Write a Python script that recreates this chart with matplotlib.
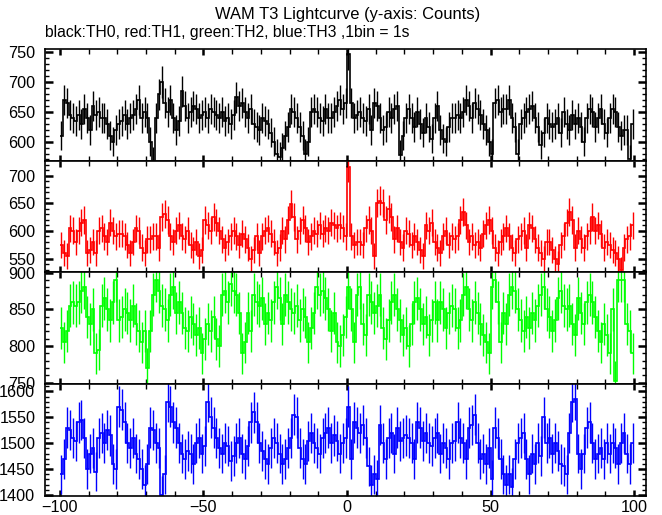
import numpy as np
import matplotlib
matplotlib.use("Agg")
import matplotlib.pyplot as plt
from matplotlib.ticker import MultipleLocator

# 1 s bins, start time of each bin
bin_start = np.arange(-100, 100)

# TH0 (black)
th0 = [610, 670, 665, 645, 640, 635, 645, 630, 655, 640,
       620, 660, 645, 650, 640, 640, 630, 610, 600, 620,
       630, 635, 645, 630, 640, 645, 655, 670, 640, 650,
       640, 600, 568, 640, 680, 700, 665, 650, 670, 640,
       620, 635, 685, 660, 640, 650, 660, 655, 640, 645,
       650, 640, 655, 650, 645, 640, 650, 635, 640, 630,
       645, 675, 660, 665, 650, 640, 655, 630, 625, 620,
       640, 635, 630, 615, 600, 580, 575, 590, 610, 625,
       655, 650, 640, 625, 610, 580, 600, 650, 655, 650,
       640, 635, 655, 640, 640, 650, 660, 670, 655, 665,
       748, 665, 640, 645, 650, 640, 635, 655, 620, 665,
       660, 640, 620, 625, 650, 640, 655, 660, 578, 610,
       640, 655, 640, 625, 650, 630, 615, 640, 625, 605,
       640, 660, 620, 605, 600, 625, 640, 640, 645, 640,
       650, 670, 660, 640, 665, 655, 645, 630, 620, 600,
       580, 665, 670, 650, 655, 655, 670, 640, 625, 580,
       630, 640, 650, 655, 660, 640, 625, 595, 615, 640,
       630, 625, 630, 640, 615, 650, 630, 620, 645, 630,
       640, 625, 600, 640, 655, 650, 625, 640, 655, 630,
       615, 640, 655, 650, 625, 610, 620, 620, 570, 630]

# TH1 (red)
th1 = [575, 560, 555, 605, 600, 580, 600, 615, 620, 560,
       565, 580, 560, 600, 605, 590, 580, 615, 600, 590,
       595, 595, 590, 575, 560, 580, 605, 600, 570, 560,
       585, 585, 590, 590, 570, 625, 630, 620, 590, 580,
       600, 610, 590, 585, 600, 575, 565, 580, 555, 565,
       620, 610, 600, 625, 615, 600, 585, 570, 580, 590,
       600, 590, 575, 595, 585, 570, 550, 565, 590, 560,
       590, 600, 605, 595, 580, 560, 570, 600, 585, 620,
       648, 625, 585, 600, 620, 605, 580, 590, 600, 595,
       610, 595, 605, 600, 615, 610, 605, 610, 605, 590,
       715, 590, 575, 580, 580, 575, 605, 620, 600, 555,
       650, 655, 650, 620, 640, 625, 585, 605, 580, 570,
       600, 595, 575, 590, 580, 565, 555, 610, 600, 615,
       580, 570, 560, 590, 600, 575, 590, 585, 590, 620,
       635, 610, 580, 590, 575, 580, 570, 595, 610, 620,
       600, 570, 560, 580, 590, 605, 590, 570, 560, 585,
       590, 600, 570, 610, 605, 585, 570, 560, 550, 580,
       580, 565, 550, 540, 575, 590, 615, 635, 620, 570,
       600, 585, 570, 590, 600, 625, 600, 610, 595, 570,
       580, 575, 565, 560, 550, 530, 570, 585, 590, 610]

# TH2 (green)
th2 = [825, 805, 820, 855, 860, 855, 860, 875, 880, 840,
       830, 850, 790, 795, 855, 865, 850, 835, 860, 890,
       835, 840, 850, 845, 835, 855, 830, 820, 805, 820,
       770, 820, 870, 890, 875, 855, 850, 835, 870, 880,
       845, 860, 845, 825, 820, 840, 830, 815, 825, 790,
       810, 830, 820, 840, 810, 800, 870, 875, 860, 885,
       875, 870, 845, 790, 805, 845, 820, 870, 860, 855,
       865, 830, 845, 835, 860, 880, 865, 830, 870, 860,
       850, 845, 855, 835, 850, 840, 805, 825, 845, 880,
       870, 875, 865, 850, 820, 845, 805, 800, 815, 840,
       880, 850, 805, 870, 880, 830, 815, 870, 860, 845,
       855, 870, 825, 810, 835, 860, 870, 850, 835, 815,
       825, 800, 830, 860, 865, 850, 830, 840, 815, 835,
       860, 835, 860, 850, 825, 845, 855, 850, 825, 835,
       870, 880, 850, 835, 860, 845, 830, 815, 805, 790,
       880, 890, 860, 805, 845, 830, 870, 880, 875, 850,
       835, 820, 840, 825, 845, 835, 855, 870, 880, 850,
       840, 820, 835, 865, 875, 855, 850, 855, 830, 815,
       865, 845, 830, 860, 870, 860, 840, 820, 805, 830,
       815, 790, 850, 752, 890, 890, 890, 830, 820, 790]

# TH3 (blue)
th3 = [1440, 1470, 1530, 1525, 1510, 1505, 1540, 1545, 1510, 1450,
       1480, 1490, 1445, 1510, 1520, 1500, 1525, 1515, 1460, 1450,
       1570, 1565, 1540, 1500, 1490, 1510, 1480, 1470, 1450, 1420,
       1460, 1530, 1525, 1500, 1490, 1400, 1440, 1580, 1570, 1540,
       1530, 1500, 1480, 1470, 1485, 1480, 1460, 1500, 1510, 1480,
       1495, 1580, 1550, 1530, 1510, 1490, 1480, 1500, 1495, 1465,
       1475, 1500, 1510, 1480, 1470, 1495, 1540, 1560, 1540, 1500,
       1485, 1470, 1460, 1490, 1510, 1500, 1480, 1460, 1470, 1490,
       1510, 1555, 1550, 1490, 1470, 1460, 1505, 1520, 1500, 1490,
       1480, 1510, 1520, 1530, 1500, 1515, 1505, 1480, 1500, 1510,
       1570, 1470, 1540, 1530, 1520, 1535, 1510, 1455, 1420, 1440,
       1430, 1535, 1500, 1470, 1510, 1520, 1480, 1530, 1505, 1510,
       1515, 1510, 1500, 1470, 1540, 1530, 1505, 1520, 1500, 1495,
       1510, 1520, 1480, 1500, 1490, 1470, 1500, 1505, 1540, 1510,
       1500, 1470, 1530, 1535, 1555, 1500, 1470, 1480, 1460, 1490,
       1430, 1530, 1510, 1470, 1440, 1420, 1440, 1415, 1470, 1500,
       1510, 1520, 1470, 1440, 1480, 1460, 1500, 1475, 1550, 1500,
       1510, 1480, 1500, 1485, 1460, 1455, 1440, 1520, 1580, 1585,
       1480, 1450, 1480, 1530, 1540, 1500, 1470, 1480, 1490, 1470,
       1500, 1480, 1500, 1490, 1460, 1500, 1520, 1480, 1460, 1500]

colors = ["black", "#ff0000", "#00ff00", "#0000ff"]
y_ranges = [(568, 756), (525, 727), (748, 900.5), (1398, 1614)]

plt.rcParams['font.family'] = ['Liberation Sans', 'DejaVu Sans']

fig, axes = plt.subplots(4, 1, figsize=(6.62, 5.15), dpi=100, sharex=True)
fig.subplots_adjust(left=0.068, right=0.976, top=0.905, bottom=0.037, hspace=0)

edges = np.append(bin_start, bin_start[-1] + 1)
centers = bin_start + 0.5

for ax, counts, col, yr in zip(axes, [th0, th1, th2, th3], colors, y_ranges):
    c = np.array(counts, dtype=float)
    err = np.sqrt(c)
    ax.stairs(c, edges, baseline=None, color=col, lw=1.2)
    ax.vlines(centers, c - err, c + err, color=col, lw=1.0)
    ax.set_xlim(-105.2, 104.2)
    ax.set_ylim(*yr)
    ax.xaxis.set_major_locator(MultipleLocator(50))
    ax.xaxis.set_minor_locator(MultipleLocator(10))
    ax.yaxis.set_major_locator(MultipleLocator(50))
    ax.yaxis.set_minor_locator(MultipleLocator(10))
    ax.tick_params(which='both', direction='in', top=True, right=True,
                   labelsize=11.7)
    ax.tick_params(axis='y', which='major', length=6, width=1.8, pad=7)
    ax.tick_params(axis='y', which='minor', length=3, width=1.0)
    ax.tick_params(axis='x', which='major', length=4.5, width=1.8, pad=3)
    ax.tick_params(axis='x', which='minor', length=3.5, width=1.0)
    for s in ax.spines.values():
        s.set_linewidth(1.2)

fig.text(0.525, 0.971, "WAM T3 Lightcurve (y-axis: Counts)", ha='center',
         va='center', fontsize=11.9)
fig.text(0.068, 0.936, "black:TH0, red:TH1, green:TH2, blue:TH3 ,1bin = 1s",
         ha='left', va='center', fontsize=11.3)

fig.savefig("out.png", dpi=100)
